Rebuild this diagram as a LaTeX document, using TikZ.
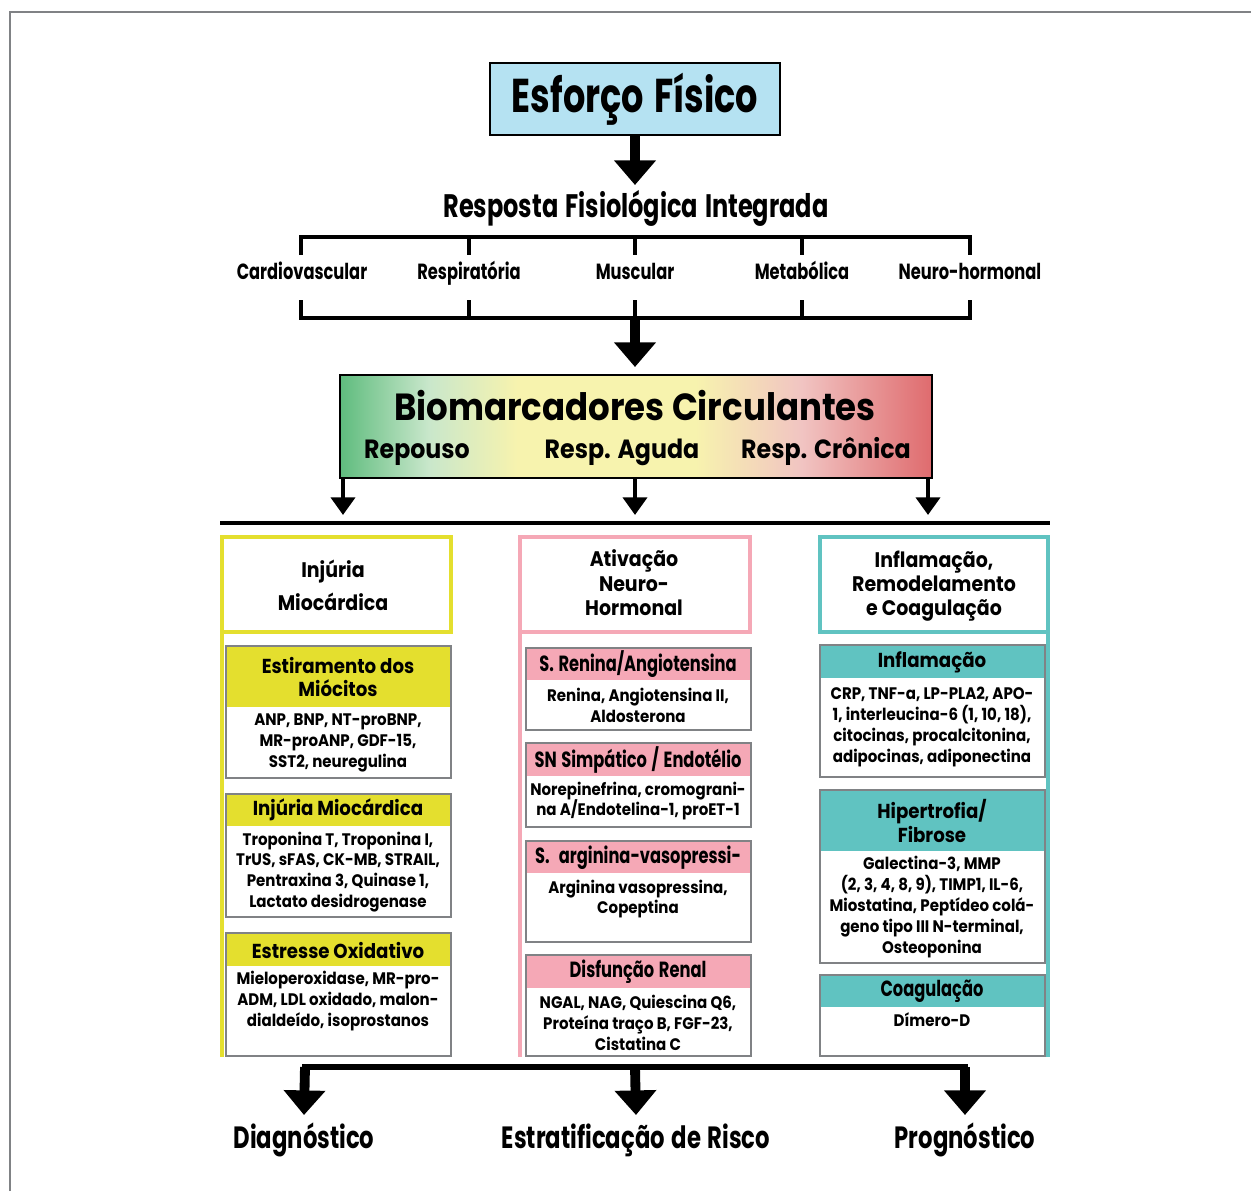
\documentclass[tikz,border=0pt]{standalone}
\usepackage{fontspec}
\setmainfont{Poppins}[FakeStretch=0.9]
\newfontfamily\narrowfont[FakeStretch=0.74, WordSpace=1.35]{Poppins}
\usetikzlibrary{arrows.meta}
\usetikzlibrary{positioning}

\definecolor{esforcoblue}{HTML}{B5E2F2}
\definecolor{injuryyellow}{HTML}{E4DF2E}
\definecolor{neuropink}{HTML}{F5A8B6}
\definecolor{inflamteal}{HTML}{60C3C1}
\definecolor{framegray}{HTML}{808285}
\definecolor{biogreen}{HTML}{5FBC7E}
\definecolor{biomint}{HTML}{C9E7CB}
\definecolor{bioyellow}{HTML}{F7F3AE}
\definecolor{biopink}{HTML}{F1C4C2}
\definecolor{biored}{HTML}{DF6B6E}

\pgfdeclarehorizontalshading{bioshade}{100bp}{color(0bp)=(biogreen); color(25bp)=(biogreen); color(32.5bp)=(biomint); color(40bp)=(bioyellow); color(55bp)=(bioyellow); color(64bp)=(biopink); color(75bp)=(biored); color(100bp)=(biored)}

\tikzset{
  bigarrow/.style={line width=5.6pt, -{Triangle[length=14pt, width=23pt]}},
  midarrow/.style={line width=2.8pt, -{Triangle[length=10pt, width=13.5pt]}},
  bracket/.style={line width=2.3pt},
  colframe/.style={line width=2.3pt},
  subframe/.style={draw=framegray, line width=1.6pt},
  bigtitle/.style={font=\narrowfont\bfseries\fontsize{27}{31}\selectfont},
  steptitle/.style={font=\narrowfont\bfseries\fontsize{18.5}{22}\selectfont},
  systemlabel/.style={font=\narrowfont\bfseries\fontsize{12.5}{15}\selectfont, text height=1.6ex, text depth=.4ex},
  outcome/.style={font=\narrowfont\bfseries\fontsize{17.5}{21}\selectfont},
  biotitle/.style={font=\bfseries\fontsize{21.5}{25}\selectfont},
  phaselabel/.style={font=\bfseries\fontsize{15}{18}\selectfont, text height=1.7ex, text depth=.4ex},
  colhead/.style={font=\bfseries\fontsize{12}{14}\selectfont, align=center},
  subhead/.style={font=\bfseries\fontsize{11.5}{13.6}\selectfont, align=center},
  narrowhead/.style={font=\narrowfont\bfseries\fontsize{12.5}{14}\selectfont, align=center},
  markers/.style={font=\bfseries\fontsize{9.5}{11.9}\selectfont, align=center},
}

\begin{document}
\begin{tikzpicture}[x=0.02cm, y=-0.02cm]
\useasboundingbox (0,0) rectangle (1251,1191);
\draw[framegray, line width=0.8pt] (10,1191) -- (10,12) -- (1251,12);

\draw[fill=esforcoblue, line width=1.3pt] (490,63) rectangle (780,135);
\node[bigtitle] (esforco) at (635,99) {Esforço Físico};
\coordinate (esforcotip) at (635,185);
\draw[bigarrow] (esforco.south |- 135,135) -- (esforcotip);

\node[steptitle] (resposta) at (636,208) {Resposta Fisiológica Integrada};
\draw[bracket] (301,255) -- (301,237) -- (970,237) -- (970,255);
\draw[bracket] (301,300) -- (301,318) -- (970,318) -- (970,300);
\foreach \x in {469,635,802} {
  \draw[bracket] (\x,237) -- (\x,255);
  \draw[bracket] (\x,300) -- (\x,318);
}
\node[systemlabel] (cardio) at (302,274) {Cardiovascular};
\node[systemlabel] (respira) at (469,274) {Respiratória};
\node[systemlabel] (muscular) at (635,274) {Muscular};
\node[systemlabel] (metabol) at (802,274) {Metabólica};
\node[systemlabel] (neuro) at (970,274) {Neuro-hormonal};
\coordinate (bracketfoot) at (635,318);
\coordinate (biotop) at (635,367);
\draw[bigarrow] (bracketfoot) -- (biotop);

\shade[shading=bioshade] (340,375) rectangle (932,478);
\draw[line width=1.3pt] (340,375) rectangle (932,478);
\node[biotitle] (bio) at (635,406) {Biomarcadores Circulantes};
\node[phaselabel] (repouso) at (417,452) {Repouso};
\node[phaselabel] (aguda) at (622,452) {Resp. Aguda};
\node[phaselabel] (cronica) at (826,452) {Resp. Crônica};
\foreach \x in {343,635,928}
  \draw[midarrow] (\x,478) -- (\x,515);
\draw[line width=2.8pt] (220,523) -- (1050,523);

\draw[injuryyellow, colframe] (222,537) rectangle (451,632);
\draw[injuryyellow, colframe] (222,632) -- (222,1057);
\node[colhead, font=\bfseries\fontsize{12}{18.7}\selectfont] (injuria) at (333,585) {Injúria\\Miocárdica};

\fill[injuryyellow] (226,646) rectangle (451,707);
\draw[subframe] (226,646) rectangle (451,778);
\node[subhead] (estiramento) at (338,677) {Estiramento dos\\Miócitos};
\node[markers] (estiramentolist) at (338,743) {ANP, BNP, NT-proBNP,\\MR-proANP, GDF-15,\\SST2, neuregulina};

\fill[injuryyellow] (226,794) rectangle (451,826);
\draw[subframe] (226,794) rectangle (451,917);
\node[subhead] (lesao) at (338,810) {Injúria Miocárdica};
\node[markers] (lesaolist) at (338,872) {Troponina T, Troponina I,\\TrUS, sFAS, CK-MB, STRAIL,\\Pentraxina 3, Quinase 1,\\Lactato desidrogenase};

\fill[injuryyellow] (226,933) rectangle (451,966);
\draw[subframe] (226,933) rectangle (451,1056);
\node[subhead] (estresse) at (338,950) {Estresse Oxidativo};
\node[markers] (estresselist) at (338,1001) {Mieloperoxidase, MR-pro-\\ADM, LDL oxidado, malon-\\dialdeído, isoprostanos};

\draw[neuropink, colframe] (520,537) rectangle (750,632);
\draw[neuropink, colframe] (520,632) -- (520,1057);
\node[colhead, font=\bfseries\fontsize{12}{13.9}\selectfont] (ativacao) at (634,583) {Ativação\\Neuro-\\Hormonal};

\fill[neuropink] (526,648) rectangle (751,680);
\draw[subframe] (526,648) rectangle (751,730);
\node[narrowhead] (renina) at (638,664) {S. Renina/Angiotensina};
\node[markers] (reninalist) at (638,705) {Renina, Angiotensina II,\\Aldosterona};

\fill[neuropink] (526,743) rectangle (751,776);
\draw[subframe] (526,743) rectangle (751,827);
\node[narrowhead] (simpatico) at (638,760) {SN Simpático / Endotélio};
\node[markers] (simpaticolist) at (638,801) {Norepinefrina, cromograni-\\na A/Endotelina-1, proET-1};

\fill[neuropink] (526,841) rectangle (751,873);
\draw[subframe] (526,841) rectangle (751,942);
\node[narrowhead] (arginina) at (638,858) {S.\ \ arginina-vasopressi-};
\node[markers] (argininalist) at (638,899) {Arginina vasopressina,\\Copeptina};

\fill[neuropink] (526,955) rectangle (751,988);
\draw[subframe] (526,955) rectangle (751,1056);
\node[narrowhead] (renal) at (638,972) {Disfunção Renal};
\node[markers] (renallist) at (638,1023) {NGAL, NAG, Quiescina Q6,\\Proteína traço B, FGF-23,\\Cistatina C};

\draw[inflamteal, colframe] (820,537) rectangle (1048,632);
\draw[inflamteal, colframe] (1048,632) -- (1048,1057);
\node[colhead, font=\bfseries\fontsize{12}{13.6}\selectfont] (remodel) at (934,586) {Inflamação,\\Remodelamento\\e Coagulação};

\fill[inflamteal] (820,645) rectangle (1045,678);
\draw[subframe] (820,645) rectangle (1045,777);
\node[subhead] (inflamacao) at (932,662) {Inflamação};
\node[markers] (inflamacaolist) at (932,727) {CRP, TNF-a, LP-PLA2, APO-\\1, interleucina-6 (1, 10, 18),\\citocinas, procalcitonina,\\adipocinas, adiponectina};

\fill[inflamteal] (820,790) rectangle (1045,851);
\draw[subframe] (820,790) rectangle (1045,963);
\node[subhead] (hipertrofia) at (932,821) {Hipertrofia/\\Fibrose};
\node[markers] (hipertrofialist) at (932,907) {Galectina-3, MMP\\(2, 3, 4, 8, 9), TIMP1, IL-6,\\Miostatina, Peptídeo colá-\\geno tipo III N-terminal,\\Osteoponina};

\fill[inflamteal] (820,975) rectangle (1045,1007);
\draw[subframe] (820,975) rectangle (1045,1056);
\node[narrowhead] (coagulacao) at (932,991) {Coagulação};
\node[markers] (coagulacaolist) at (932,1020) {Dímero-D};

\draw[line width=3.4pt] (302,1067) -- (968,1067);
\node[outcome] (diagnostico) at (304,1140) {Diagnóstico};
\node[outcome] (estratificacao) at (636,1140) {Estratificação de Risco};
\node[outcome] (prognostico) at (965,1140) {Prognóstico};
\draw[bigarrow] (305,1067) -- (diagnostico.north |- 305,1115);
\draw[bigarrow] (635,1067) -- (estratificacao.north |- 635,1115);
\draw[bigarrow] (965,1067) -- (prognostico.north |- 965,1115);
\end{tikzpicture}
\end{document}
